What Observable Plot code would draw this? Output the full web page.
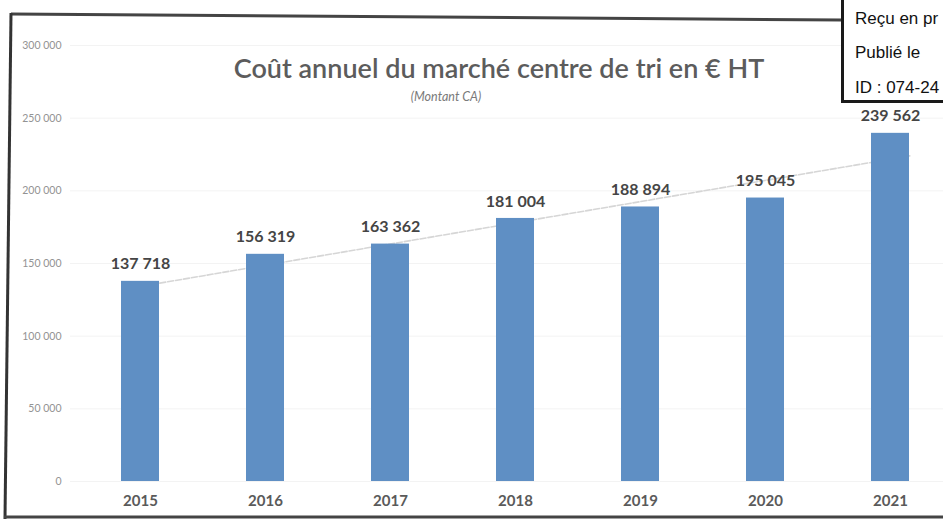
<!DOCTYPE html>
<html>
<head>
<meta charset="utf-8">
<script src="https://cdn.jsdelivr.net/npm/d3@7"></script>
<script src="https://cdn.jsdelivr.net/npm/@observablehq/plot@0.6"></script>
<style>
  body { margin: 0; background: #fff; }
  #wrap { position: relative; width: 943px; height: 521px; overflow: hidden; background: #fff; }
  #chart { position: absolute; left: 0; top: 0; }
  #frame { position: absolute; left: 0; top: 0; pointer-events: none; }
  .title { position: absolute; left: 0; width: 998px; text-align: center; font-family: Lato, "Open Sans", sans-serif; font-size: 27px; line-height: 27px; top: 54px; color: #5c5c5c; font-weight: 600; }
  .subtitle { position: absolute; left: 0; width: 892px; text-align: center; font-family: Lato, "Open Sans", sans-serif; font-style: italic; font-size: 12.5px; line-height: 14px; top: 90px; color: #7a7a7a; }
  .stamp { position: absolute; left: 841px; top: -4px; width: 120px; height: 101px; border: 3px solid #1a1a1a; background: #fff; font-family: "Liberation Sans", Arial, sans-serif; font-size: 17px; color: #111; white-space: nowrap; }
  .stamp div { position: absolute; left: 11px; line-height: 19px; }
</style>
</head>
<body>
<div id="wrap">
  <div id="chart"></div>
  <svg id="frame" width="943" height="521"></svg>
  <div class="title" id="title"></div>
  <div class="subtitle" id="subtitle"></div>
  <div class="stamp" id="stamp"></div>
</div>
<script>
const years = ["2015", "2016", "2017", "2018", "2019", "2020", "2021"];
const costs = [137718, 156319, 163362, 181004, 188894, 195045, 239562];
const yTicks = [0, 50000, 100000, 150000, 200000, 250000, 300000];
const titleText = "Coût annuel du marché centre de tri en € HT";
const subtitleText = "(Montant CA)";
const stampLines = ["Reçu en pr", "Publié le", "ID : 074-24"];

const data = years.map((year, i) => ({year, cost: costs[i]}));
const fmt = d => d3.format(",")(d).replace(/,/g, " ");

const xRange = [75.7, 954.9];
const padInner = 0.693;
const bandwidth = (xRange[1] - xRange[0]) / 7 * (1 - padInner);

const chart = Plot.plot({
  width: 943,
  height: 521,
  marginTop: 45,
  marginBottom: 40,
  marginLeft: 70,
  marginRight: 0,
  style: {fontFamily: "Lato, 'Open Sans', sans-serif", background: "transparent", overflow: "visible"},
  x: {domain: years, range: xRange, paddingInner: padInner, paddingOuter: padInner / 2, label: null},
  y: {domain: [0, 300000], label: null},
  marks: [
    Plot.gridY(yTicks, {stroke: "#f3f3f3", strokeOpacity: 1}),
    Plot.linearRegressionY(data, {x: "year", y: "cost", ci: 0, stroke: "#d6d6d6", strokeWidth: 1.6, strokeDasharray: "6,2", dx: bandwidth / 2}),
    Plot.barY(data, {x: "year", y: "cost", fill: "#5f8fc4"}),
    Plot.text(data, {x: "year", y: "cost", text: d => fmt(d.cost), dy: -17, fontWeight: "bold", fontSize: 16, fill: "#454545"}),
    Plot.axisY(yTicks, {tickSize: 0, tickPadding: 9, tickFormat: fmt, fontSize: 10.5, color: "#939393"}),
    Plot.axisX({tickSize: 0, tickPadding: 14, fontSize: 15, fontWeight: "bold", color: "#5a5a5a"})
  ]
});
document.getElementById("chart").appendChild(chart);

// decorative scan frame
const frame = d3.select("#frame");
frame.append("path").attr("d", "M11,14 L842,20").attr("stroke", "#444").attr("stroke-width", 3).attr("fill", "none");
frame.append("path").attr("d", "M11,13 L5,519").attr("stroke", "#333").attr("stroke-width", 3).attr("fill", "none");
frame.append("path").attr("d", "M4,517 L943,517").attr("stroke", "#444").attr("stroke-width", 3).attr("fill", "none");

document.getElementById("title").textContent = titleText;
document.getElementById("subtitle").textContent = subtitleText;
const stamp = document.getElementById("stamp");
const stampTops = [10, 44, 79];
stampLines.forEach((t, i) => {
  const el = document.createElement("div");
  el.textContent = t;
  el.style.top = stampTops[i] + "px";
  stamp.appendChild(el);
});
</script>
</body>
</html>
